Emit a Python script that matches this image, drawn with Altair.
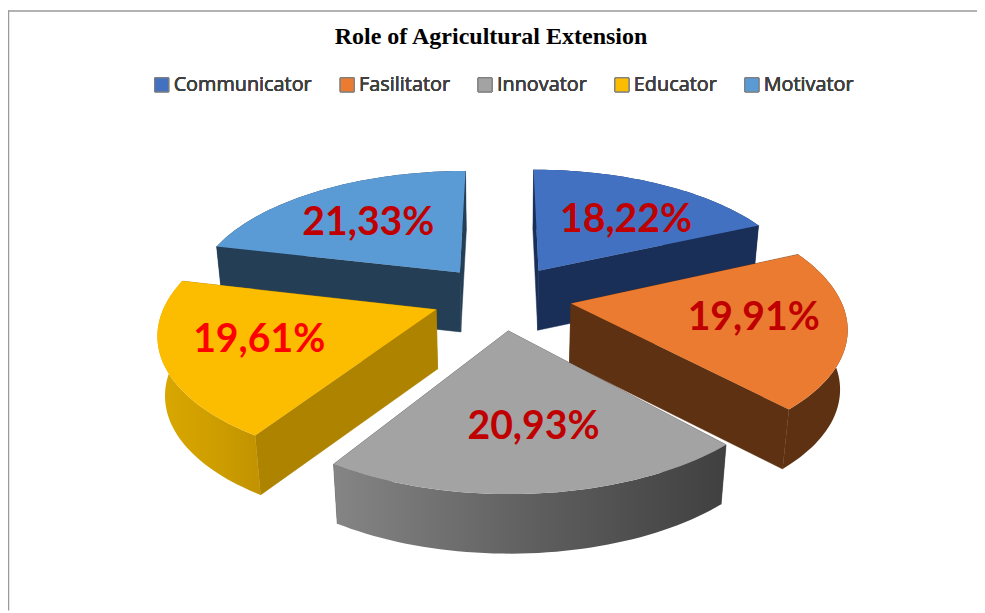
import math
import altair as alt

names = ["Communicator", "Fasilitator", "Innovator", "Educator", "Motivator"]
shares = [18.22, 19.91, 20.93, 19.61, 21.33]
labels = ["18,22%", "19,91%", "20,93%", "19,61%", "21,33%"]
top_colors = ["#4271C2", "#EA7B31", "#A3A3A3", "#FCBC00", "#5B9BD5"]
wall_colors = ["#1A2F57", "#5E3112", "#555555", "#AE8300", "#243E55"]
label_colors = ["#C00000", "#C00000", "#C00000", "#FF0000", "#C00000"]

# camera of the 3D pie (pixels inside the 8px page margin)
W, H = 977, 605
CX, CY = 506 - 8, 297 - 8
AX, AY, K = 271, 126, 0.16
EXPLODE = 0.26
DROP, SHRINK = 60, 0.022
label_nudge = [(12, 4), (19, -1), (8, 6), (-17, 0), (-4, 2)]


def project(wx, wy):
    s = 1 / (1 - K * wy)
    return CX + AX * wx * s, CY + AY * wy * s


def lower(p):
    return CX + (p[0] - CX) * (1 - SHRINK), p[1] + DROP


def direction(deg):
    a = math.radians(deg)
    return math.sin(a), -math.cos(a)


def poly(points):
    ring = [[round(x, 2), round(y, 2)] for x, y in points]
    ring.append(ring[0])
    return {"type": "Feature", "properties": {}, "geometry": {"type": "Polygon", "coordinates": [ring]}}


def gradient(c0, c1, c2):
    return alt.LinearGradient(
        gradient="linear", x1=0, x2=1, y1=0, y2=0,
        stops=[alt.GradientStop(color=c0, offset=0), alt.GradientStop(color=c1, offset=0.55), alt.GradientStop(color=c2, offset=1)],
    )


arc_fill = {
    1: "#5E3112",
    2: gradient("#858585", "#5C5C5C", "#404040"),
    3: gradient("#DBA800", "#CE9E00", "#C29200"),
}
front_arcs = (1, 2, 3)

proj = alt.Projection(type="identity", scale=1, translate=[0, 0])
color_scale = alt.Scale(domain=names, range=top_colors)

sectors = []
start = 0.0
for i, share in enumerate(shares):
    end = start + share * 3.6
    mx, my = direction((start + end) / 2)
    tx, ty = mx * EXPLODE, my * EXPLODE
    steps = 48
    arc_w = [(tx + direction(start + (end - start) * j / steps)[0], ty + direction(start + (end - start) * j / steps)[1]) for j in range(steps + 1)]
    tip = project(tx, ty)
    arc = [project(*w) for w in arc_w]
    sectors.append(dict(i=i, tip=tip, arc=arc, depth=my, mx=mx, my=my, tx=tx, ty=ty))
    start = end

layers = []
for sec in sorted(sectors, key=lambda q: q["depth"]):
    i, tip, arc = sec["i"], sec["tip"], sec["arc"]
    low = [lower(p) for p in arc]
    a_face = poly([tip, arc[0], low[0], lower(tip)])
    b_face = poly([tip, arc[-1], low[-1], lower(tip)])
    faces = sorted([(arc[0][1], a_face), (arc[-1][1], b_face)], key=lambda f: f[0])
    wall_col = wall_colors[i]
    arc_wall = poly(arc + low[::-1])
    fill = arc_fill.get(i, wall_col)
    arc_layer = alt.Chart(alt.Data(values=[arc_wall])).mark_geoshape(fill=fill, strokeWidth=0).project(**proj.to_dict())
    face_layers = [
        alt.Chart(alt.Data(values=[f])).mark_geoshape(fill=wall_col, stroke=wall_col, strokeWidth=0.5).project(**proj.to_dict())
        for _, f in faces
    ]
    if i in front_arcs:
        layers.extend(face_layers)
        layers.append(arc_layer)
    else:
        layers.append(arc_layer)
        layers.extend(face_layers)
    top = poly([tip] + arc)
    top["name"] = names[i]
    layers.append(
        alt.Chart(alt.Data(values=[top])).mark_geoshape(strokeWidth=0).encode(
            color=alt.Color("name:N", scale=color_scale, sort=names, legend=alt.Legend(
                title=None, orient="none", legendX=145, legendY=65, direction="horizontal",
                columns=5, symbolType="square", symbolSize=196, symbolStrokeWidth=1,
                labelFont="Open Sans", labelFontSize=20, labelFontWeight="normal", labelColor="#404040", labelOffset=2,
                columnPadding=25, gridAlign="none", symbolStrokeColor="#7f7f7f",
            ))
        ).project(**proj.to_dict())
    )

label_rows = []
for sec in sectors:
    i = sec["i"]
    x, y = project(sec["tx"] + 0.6 * sec["mx"], sec["ty"] + 0.6 * sec["my"])
    label_rows.append({"x": x + label_nudge[i][0], "y": y + label_nudge[i][1], "t": labels[i], "c": label_colors[i]})

text = alt.Chart(alt.Data(values=label_rows)).mark_text(
    font="Lato", fontWeight="bold", fontSize=39.5, align="center", baseline="middle"
).encode(
    x=alt.X("x:Q", scale=None), y=alt.Y("y:Q", scale=None),
    text="t:N", color=alt.Color("c:N", scale=None, legend=None),
)

top_line = alt.Chart(alt.Data(values=[{"k": 0}])).mark_rule(color="#9a9a9a", strokeWidth=1.5).encode(
    x=alt.value(0), x2=alt.value(W), y=alt.value(0.5))
left_line = alt.Chart(alt.Data(values=[{"k": 0}])).mark_rule(color="#9a9a9a", strokeWidth=1.5).encode(
    x=alt.value(0.5), y=alt.value(0), y2=alt.value(H))

chart = alt.layer(top_line, left_line, *layers, text).resolve_scale(color="independent").properties(
    width=W, height=H, padding=0, autosize=alt.AutoSizeParams(type="none"),
    title=alt.TitleParams(
        "Role of Agricultural Extension", font="Liberation Serif", fontWeight="bold", fontSize=24.2,
        color="#000000", anchor="middle", dy=63, dx=-1.5, baseline="alphabetic",
    ),
).configure_view(stroke=None)

chart.save("out.html", embed_options={"renderer": "svg", "actions": False})
